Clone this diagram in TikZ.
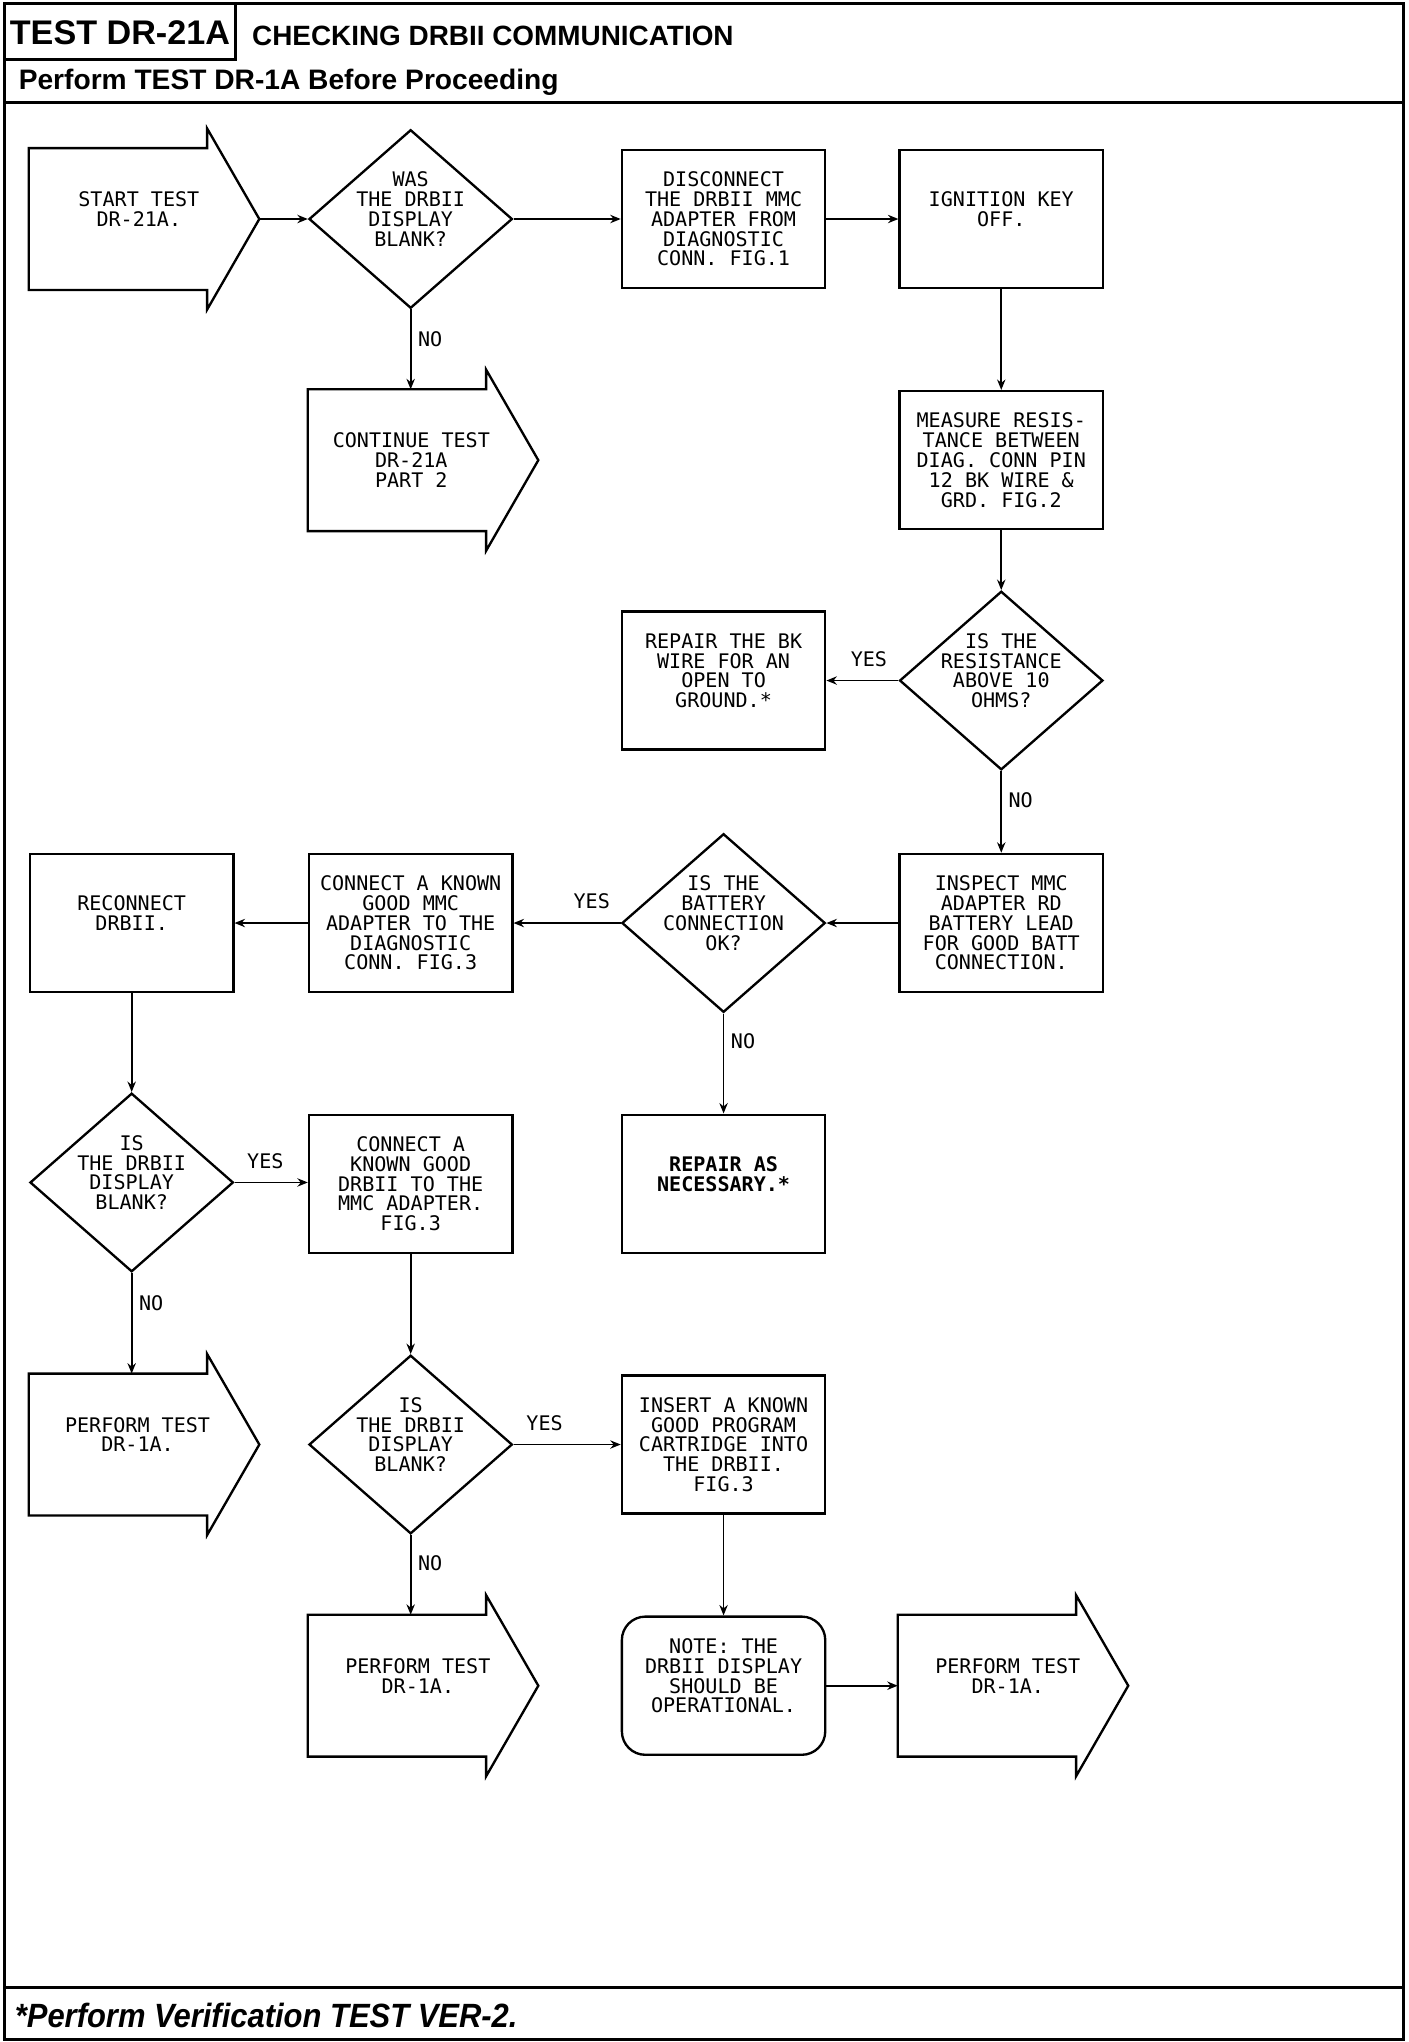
\documentclass[tikz,border=0pt]{standalone}
\usepackage{fontspec}
\usetikzlibrary{shapes.geometric,arrows.meta,calc}
\newfontfamily\plotfont{DejaVu Sans Mono}
\newfontfamily\headfont{Liberation Sans}
\newfontfamily\footfont{Liberation Sans}[FakeStretch=0.92]
\newcommand\ptext{\plotfont\fontsize{7.7pt}{7.6pt}\selectfont}
\newcommand\ptextbf{\plotfont\bfseries\fontsize{7.7pt}{7.6pt}\selectfont}
\newcommand\arrowoutline[1]{%
  \draw[shapeline] (#1.north west) -- ([xshift=-20pt]#1.north east)
    -- ([xshift=-20pt,yshift=7.5pt]#1.north east) -- (#1.east)
    -- ([xshift=-20pt,yshift=-7.5pt]#1.south east) -- ([xshift=-20pt]#1.south east)
    -- (#1.south west) -- cycle;}
\tikzset{
  frame/.style={line width=1.15pt},
  shapeline/.style={line width=0.9pt},
  box/.style={draw, shapeline, rectangle, minimum width=78pt, minimum height=53pt,
    inner sep=0pt, font=\ptext, align=center},
  dia/.style={draw, shapeline, diamond, minimum width=78pt, minimum height=68.5pt,
    inner sep=0pt},
  dtxt/.style={font=\ptext, align=center, inner sep=0pt},
  barrow/.style={rectangle, minimum width=88pt, minimum height=54pt, inner sep=0pt},
  conn/.style={line width=0.65pt, -{Stealth[length=4pt,width=3.2pt]}},
  lab/.style={font=\ptext, inner sep=0pt},
  head/.style={inner sep=0pt}
}
\begin{document}
\begin{tikzpicture}[x=0.5pt,y=-0.5pt]
\useasboundingbox (0,0) rectangle (1080,1566.3);
% frame
\draw[frame] (3.5,2.5) rectangle (1076.5,1564.5);
\draw[frame] (181,2.5) -- (181,46) -- (3.5,46);
\draw[frame] (3.5,78.5) -- (1076.5,78.5);
\draw[frame] (3.5,1524.5) -- (1076.5,1524.5);
\node[head, anchor=base, font=\headfont\bfseries\fontsize{13.1pt}{15pt}\selectfont] (ttl) at (92,34.5) {TEST DR-21A};
\node[head, anchor=base west, font=\headfont\bfseries\fontsize{10.7pt}{13pt}\selectfont] (sub) at (193,35) {CHECKING DRBII COMMUNICATION};
\node[head, anchor=base west, font=\headfont\bfseries\fontsize{10.8pt}{13pt}\selectfont] (pre) at (14,69) {Perform TEST DR-1A Before Proceeding};
\node[head, anchor=base west, font=\footfont\bfseries\itshape\fontsize{12.9pt}{15pt}\selectfont] (ftr) at (11,1555) {*Perform Verification TEST VER-2.};

% row 1
\node[barrow] (start) at (110.5,168) {};
\arrowoutline{start}
\node[dtxt] (startt) at ([xshift=-2pt]start.center) {START TEST\\DR-21A.\\\mbox{}};
\node[dia] (d1) at (315,168) {};
\node[dtxt] (d1t) at (d1.center) {WAS\\THE DRBII\\DISPLAY\\BLANK?\\\mbox{}};
\node[box] (disc) at (555,168) {DISCONNECT\\THE DRBII MMC\\ADAPTER FROM\\DIAGNOSTIC\\CONN. FIG.1};
\node[box] (ign) at (768,168) {IGNITION KEY\\OFF.\\\mbox{}};
% row 2
\node[barrow] (cont) at (324.5,353) {};
\arrowoutline{cont}
\node[dtxt] (contt) at ([xshift=-4.5pt]cont.center) {CONTINUE TEST\\DR-21A\\PART 2};
\node[box] (meas) at (768,353) {MEASURE RESIS-\\TANCE BETWEEN\\DIAG. CONN PIN\\12 BK WIRE \&\\GRD. FIG.2};
% row 3
\node[dia] (d2) at (768,522) {};
\node[dtxt] (d2t) at (d2.center) {IS THE\\RESISTANCE\\ABOVE 10\\OHMS?\\\mbox{}};
\node[box] (rep1) at (555,522) {REPAIR THE BK\\WIRE FOR AN\\OPEN TO\\GROUND.*\\\mbox{}};
% row 4
\node[box] (insp) at (768,708) {INSPECT MMC\\ADAPTER RD\\BATTERY LEAD\\FOR GOOD BATT\\CONNECTION.};
\node[dia] (d3) at (555,708) {};
\node[dtxt] (d3t) at (d3.center) {IS THE\\BATTERY\\CONNECTION\\OK?\\\mbox{}};
\node[box] (conn1) at (315,708) {CONNECT A KNOWN\\GOOD MMC\\ADAPTER TO THE\\DIAGNOSTIC\\CONN. FIG.3};
\node[box] (recon) at (101,708) {RECONNECT\\DRBII.\\\mbox{}};
% row 5
\node[dia] (d4) at (101,907) {};
\node[dtxt] (d4t) at (d4.center) {IS\\THE DRBII\\DISPLAY\\BLANK?\\\mbox{}};
\node[box] (conn2) at (315,908) {CONNECT A\\KNOWN GOOD\\DRBII TO THE\\MMC ADAPTER.\\FIG.3};
\node[box, font=\ptextbf] (repas) at (555,908) {REPAIR AS\\NECESSARY.*\\\mbox{}};
% row 6
\node[barrow] (perf1) at (110.5,1108) {};
\arrowoutline{perf1}
\node[dtxt] (perf1t) at ([xshift=-2.5pt]perf1.center) {PERFORM TEST\\DR-1A.\\\mbox{}};
\node[dia] (d5) at (315,1108) {};
\node[dtxt] (d5t) at (d5.center) {IS\\THE DRBII\\DISPLAY\\BLANK?\\\mbox{}};
\node[box] (ins) at (555,1108) {INSERT A KNOWN\\GOOD PROGRAM\\CARTRIDGE INTO\\THE DRBII.\\FIG.3};
% row 7
\node[barrow] (perf2) at (324.5,1293) {};
\arrowoutline{perf2}
\node[dtxt] (perf2t) at ([xshift=-2pt]perf2.center) {PERFORM TEST\\DR-1A.\\\mbox{}};
\node[box, rounded corners=9pt] (note) at (555,1293) {NOTE: THE\\DRBII DISPLAY\\SHOULD BE\\OPERATIONAL.\\\mbox{}};
\node[barrow] (perf3) at (777,1293) {};
\arrowoutline{perf3}
\node[dtxt] (perf3t) at ([xshift=-2pt]perf3.center) {PERFORM TEST\\DR-1A.\\\mbox{}};

% connectors
\draw[conn] (start.east) -- (start.east -| d1.west);
\draw[conn] (d1.east) -- (d1.east -| disc.west);
\draw[conn] (disc.east) -- (disc.east -| ign.west);
\draw[conn] (d1.south) -- (d1.south |- cont.north) node[lab, pos=0.37, right=2.5pt] (no1) {NO};
\draw[conn] (ign.south) -- (ign.south |- meas.north);
\draw[conn] (meas.south) -- (meas.south |- d2.north);
\draw[conn] (d2.west) -- (d2.west -| rep1.east) node[lab, pos=0.41, above=5pt] (yes1) {YES};
\draw[conn] (d2.south) -- (d2.south |- insp.north) node[lab, pos=0.36, right=2.5pt] (no2) {NO};
\draw[conn] (insp.west) -- (insp.west -| d3.east);
\draw[conn] (d3.west) -- (d3.west -| conn1.east) node[lab, pos=0.27, above=5pt] (yes2) {YES};
\draw[conn] (conn1.west) -- (conn1.west -| recon.east);
\draw[conn] (d3.south) -- (d3.south |- repas.north) node[lab, pos=0.28, right=2.5pt] (no3) {NO};
\draw[conn] (recon.south) -- (recon.south |- d4.north);
\draw[conn] (d4.east) -- (d4.east -| conn2.west) node[lab, pos=0.42, above=5pt] (yes3) {YES};
\draw[conn] (d4.south) -- (d4.south |- perf1.north) node[lab, pos=0.3, right=2.5pt] (no4) {NO};
\draw[conn] (conn2.south) -- (conn2.south |- d5.north);
\draw[conn] (d5.east) -- (d5.east -| ins.west) node[lab, pos=0.29, above=5pt] (yes4) {YES};
\draw[conn] (d5.south) -- (d5.south |- perf2.north) node[lab, pos=0.35, right=2.5pt] (no5) {NO};
\draw[conn] (ins.south) -- (ins.south |- note.north);
\draw[conn] (note.east) -- (note.east -| perf3.west);
\end{tikzpicture}
\end{document}
